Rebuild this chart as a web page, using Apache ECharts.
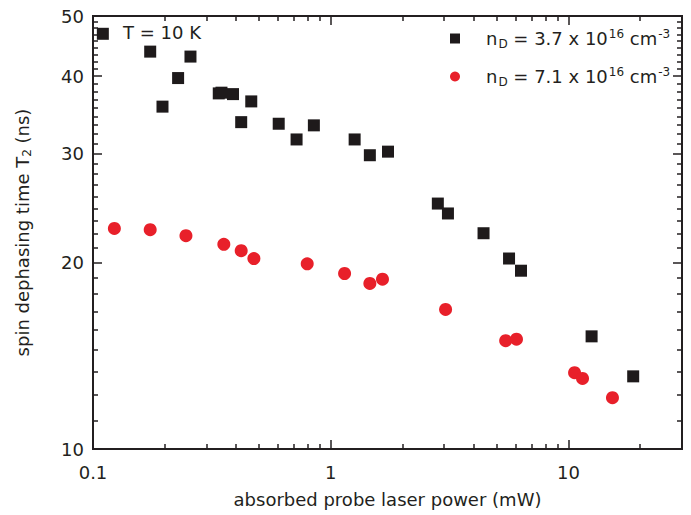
<!DOCTYPE html>
<html>
<head>
<meta charset="utf-8">
<script src="https://cdn.jsdelivr.net/npm/echarts@6/dist/echarts.min.js"></script>
<style>
  html, body { margin: 0; padding: 0; background: #fff; }
  #chart { width: 691px; height: 515px; }
</style>
</head>
<body>
<div id="chart"></div>
<script>
// absorbed probe laser power (mW) / T2 (ns), n_D = 3.7e16
var powerLow = [0.110, 0.174, 0.196, 0.228, 0.257, 0.338, 0.347, 0.388, 0.420, 0.463,
  0.604, 0.718, 0.849, 1.26, 1.46, 1.74, 2.82, 3.11, 4.39, 5.62, 6.31, 12.5, 18.7];
var t2Low = [46.8, 43.8, 35.7, 39.7, 43.0, 37.5, 37.6, 37.4, 33.7, 36.4,
  33.5, 31.6, 33.3, 31.6, 29.8, 30.2, 24.9, 24.0, 22.3, 20.3, 19.4, 15.2, 13.1];
// n_D = 7.1e16
var powerHigh = [0.123, 0.174, 0.246, 0.355, 0.420, 0.475, 0.796, 1.143, 1.46, 1.65,
  3.04, 5.44, 6.04, 10.6, 11.45, 15.3];
var t2High = [22.7, 22.6, 22.1, 21.4, 20.9, 20.3, 19.9, 19.2, 18.5, 18.8,
  16.8, 14.96, 15.04, 13.28, 13.0, 12.1];

var xMajor = [0.1, 1, 10];
var xMinor = [0.2, 0.3, 0.4, 0.5, 0.6, 0.7, 0.8, 0.9, 2, 3, 4, 5, 6, 7, 8, 9, 20];
var yMajor = [10, 20, 30, 40, 50];
var yMinor = [];
for (var b = 10; b < 50; b += 10) {
  for (var k = 1; k < 9; k++) yMinor.push(b + k * 10 / 9);
}

var ink = '#231f20';
var font = 'DejaVu Sans, sans-serif';

function pair(xs, ys) {
  return xs.map(function (x, i) { return [x, ys[i]]; });
}

function xAx(pos, ticks, len, withLabels) {
  return {
    type: 'log', logBase: 10, min: 0.1, max: 30, position: pos,
    axisLine: { show: true, lineStyle: { color: ink, width: 2 } },
    axisTick: { show: true, inside: true, length: len, customValues: ticks,
      lineStyle: { color: ink, width: 1.5 } },
    axisLabel: withLabels ? {
      show: true, customValues: xMajor, margin: 14, color: ink, fontSize: 18, fontFamily: font,
      formatter: function (v) { return String(v); }
    } : { show: false },
    splitLine: { show: false }, minorTick: { show: false }
  };
}

function yAx(pos, ticks, len, withLabels) {
  return {
    type: 'log', logBase: 10, min: 10, max: 50, position: pos,
    axisLine: { show: true, lineStyle: { color: ink, width: 2 } },
    axisTick: { show: true, inside: true, length: len, customValues: ticks,
      lineStyle: { color: ink, width: 1.5 } },
    axisLabel: withLabels ? {
      show: true, customValues: yMajor, margin: 9, color: ink, fontSize: 18, fontFamily: font,
      formatter: function (v) { return String(Math.round(v)); }
    } : { show: false },
    splitLine: { show: false }, minorTick: { show: false }
  };
}

var xAxes = [xAx('bottom', xMajor, 9, true), xAx('bottom', xMinor, 5, false),
  xAx('top', xMajor, 9, false), xAx('top', xMinor, 5, false)];
xAxes[0].name = 'absorbed probe laser power (mW)';
xAxes[0].nameLocation = 'middle';
xAxes[0].nameGap = 41;
xAxes[0].nameTextStyle = { color: ink, fontSize: 18, fontFamily: font };

var yAxes = [yAx('left', yMajor, 9, true), yAx('left', yMinor, 5, false),
  yAx('right', yMajor, 9, false), yAx('right', yMinor, 5, false)];
yAxes[0].name = 'spin dephasing time T{sub|2} (ns)';
yAxes[0].nameLocation = 'middle';
yAxes[0].nameGap = 60;
yAxes[0].nameRotate = 90;
yAxes[0].nameTextStyle = {
  color: ink, fontSize: 18, fontFamily: font,
  rich: { sub: { fontSize: 12, color: ink, fontFamily: font, padding: [9, 0, 0, 0] } }
};

var chart = echarts.init(document.getElementById('chart'), null, { renderer: 'svg' });
chart.setOption({
  backgroundColor: '#fff',
  animation: false,
  grid: { left: 93, right: 9, top: 16, bottom: 66, containLabel: false, outerBoundsMode: 'none' },
  xAxis: xAxes,
  yAxis: yAxes,
  legend: {
    orient: 'vertical', left: 445, top: 22, z: 10,
    itemWidth: 10, itemHeight: 10, itemGap: 15,
    data: [
      { name: 'low', icon: 'rect' },
      { name: 'high', icon: 'circle' }
    ],
    formatter: function (name) {
      var v = name === 'low' ? '3.7' : '7.1';
      return '{t|n}{sub|D}{t| = ' + v + ' x 10}{sup|16}{t| cm}{sup|-3}';
    },
    textStyle: {
      padding: [0, 0, 0, 21],
      rich: {
        t: { fontSize: 18, color: ink, fontFamily: font, lineHeight: 26 },
        sub: { fontSize: 12, color: ink, fontFamily: font, lineHeight: 26, padding: [11, 0, 0, 1] },
        sup: { fontSize: 12, color: ink, fontFamily: font, lineHeight: 26, padding: [0, 0, 10, 1] }
      }
    }
  },
  graphic: [{
    type: 'text', left: 123, top: 23, z: 10,
    style: { text: 'T = 10 K', fill: ink, fontSize: 18, fontFamily: font }
  }],
  series: [
    {
      name: 'low', type: 'scatter', xAxisIndex: 0, yAxisIndex: 0,
      symbol: 'rect', symbolSize: 12,
      itemStyle: { color: '#1e1a1b', opacity: 1 },
      data: pair(powerLow, t2Low)
    },
    {
      name: 'high', type: 'scatter', xAxisIndex: 0, yAxisIndex: 0,
      symbol: 'circle', symbolSize: 13,
      itemStyle: { color: '#e8202a', opacity: 1 },
      data: pair(powerHigh, t2High)
    }
  ]
});
</script>
</body>
</html>
